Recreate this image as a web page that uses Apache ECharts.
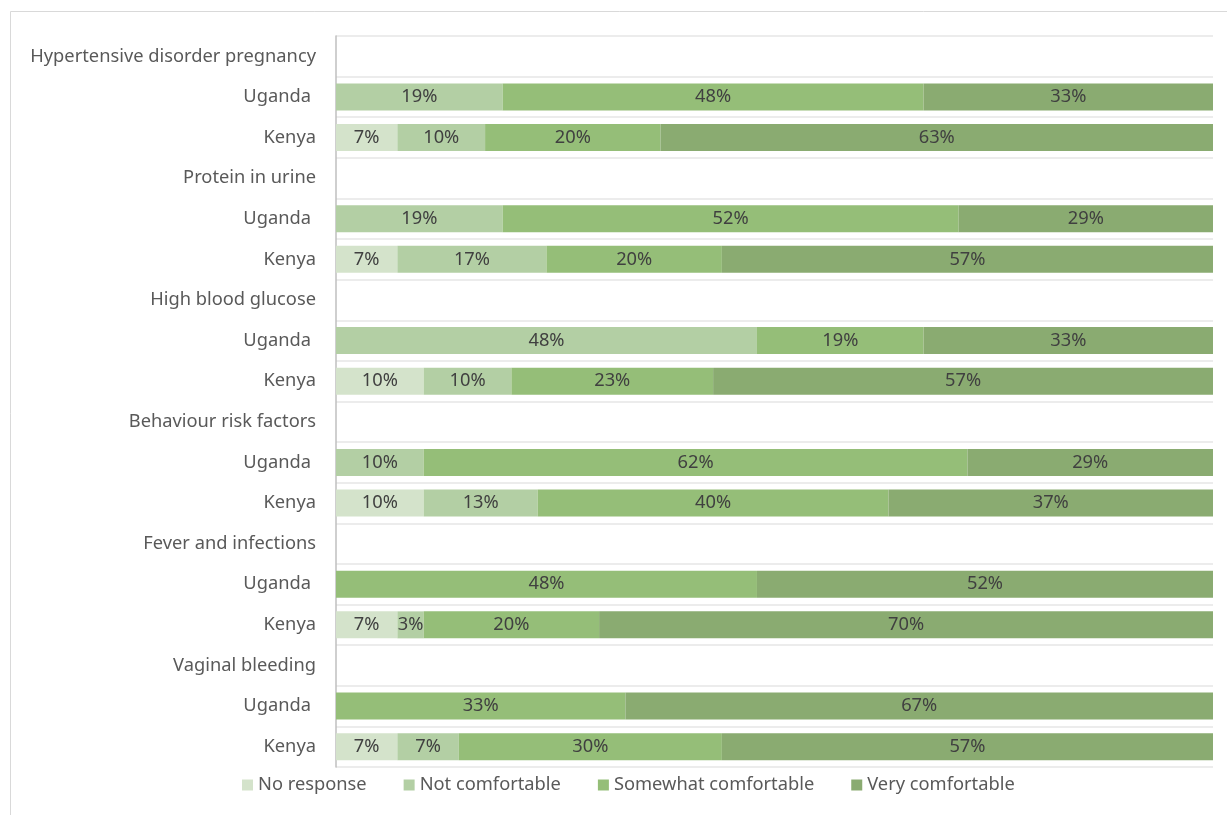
<!DOCTYPE html>
<html>
<head>
<meta charset="utf-8">
<title>Comfort level by topic</title>
<script src="https://cdn.jsdelivr.net/npm/echarts@6/dist/echarts.min.js"></script>
<style>
  html, body { margin: 0; padding: 0; background: #ffffff; }
  #chart { width: 1227px; height: 815px; }
</style>
</head>
<body>
<div id="chart"></div>
<script>
// Topics, each shown as a header row followed by one bar per country
const groups = [
  'Hypertensive disorder pregnancy',
  'Protein in urine',
  'High blood glucose',
  'Behaviour risk factors',
  'Fever and infections',
  'Vaginal bleeding'
];
const countries = ['Uganda', 'Kenya'];
const responses = ['No response', 'Not comfortable', 'Somewhat comfortable', 'Very comfortable'];
const colors = ['#d4e3cb', '#b3cfa4', '#95be78', '#8aab71'];

// Percentages per topic: [No response, Not comfortable, Somewhat, Very]
const ugandaValues = [
  [0, 19, 48, 33],
  [0, 19, 52, 29],
  [0, 48, 19, 33],
  [0, 10, 62, 29],
  [0, 0, 48, 52],
  [0, 0, 33, 67]
];
const kenyaValues = [
  [7, 10, 20, 63],
  [7, 17, 20, 57],
  [10, 10, 23, 57],
  [10, 13, 40, 37],
  [7, 3, 20, 70],
  [7, 7, 30, 57]
];

// Row layout: header, Uganda, Kenya for every topic
const rowLabels = [];
const rowKinds = [];
const rowValues = [];
groups.forEach(function (g, i) {
  rowLabels.push(g); rowKinds.push('group'); rowValues.push(null);
  rowLabels.push(countries[0]); rowKinds.push('uganda'); rowValues.push(ugandaValues[i]);
  rowLabels.push(countries[1]); rowKinds.push('kenya'); rowValues.push(kenyaValues[i]);
});
const rowIds = rowLabels.map(function (_, i) { return String(i); });

const FONT = '"Noto Sans", "Open Sans", sans-serif';
const FS = 18.3;

const series = responses.map(function (name, k) {
  return {
    name: name,
    type: 'bar',
    stack: 'total',
    barWidth: 27,
    clip: true,
    itemStyle: { color: colors[k] },
    label: {
      show: true,
      position: 'inside',
      color: '#404040',
      fontFamily: FONT,
      fontSize: FS,
      formatter: function (p) { return p.value ? p.value + '%' : ''; }
    },
    emphasis: { disabled: true },
    data: rowValues.map(function (v) { return v && v[k] ? v[k] : null; })
  };
});

const chart = echarts.init(document.getElementById('chart'), null, { renderer: 'canvas' });
chart.setOption({
  animation: false,
  backgroundColor: '#ffffff',
  graphic: [{
    type: 'rect',
    shape: { x: 10.5, y: 11.5, width: 1240, height: 820 },
    style: { fill: 'none', stroke: '#d9d9d9', lineWidth: 1 },
    silent: true,
    z: 0
  }],
  grid: { left: 336, right: 14, top: 36, bottom: 48, containLabel: false },
  xAxis: {
    type: 'value',
    min: 0,
    max: 100,
    show: false
  },
  yAxis: {
    type: 'category',
    inverse: true,
    data: rowIds,
    axisLine: { show: true, lineStyle: { color: '#bfbfbf', width: 1.5 } },
    axisTick: { show: false },
    splitLine: { show: true, lineStyle: { color: '#ececec', width: 2 } },
    axisLabel: {
      margin: 20,
      color: '#595959',
      fontFamily: FONT,
      fontSize: FS,
      formatter: function (v) {
        const i = Number(v);
        if (rowKinds[i] === 'uganda') return '{u|' + rowLabels[i] + '}';
        return rowLabels[i];
      },
      rich: {
        u: { color: '#595959', fontFamily: FONT, fontSize: FS, padding: [0, 5, 0, 0] }
      }
    }
  },
  legend: {
    bottom: 16,
    left: 237,
    icon: 'rect',
    itemWidth: 11,
    itemHeight: 11,
    itemGap: 37,
    textStyle: { color: '#595959', fontFamily: FONT, fontSize: FS },
    data: responses
  },
  series: series
});
</script>
</body>
</html>
